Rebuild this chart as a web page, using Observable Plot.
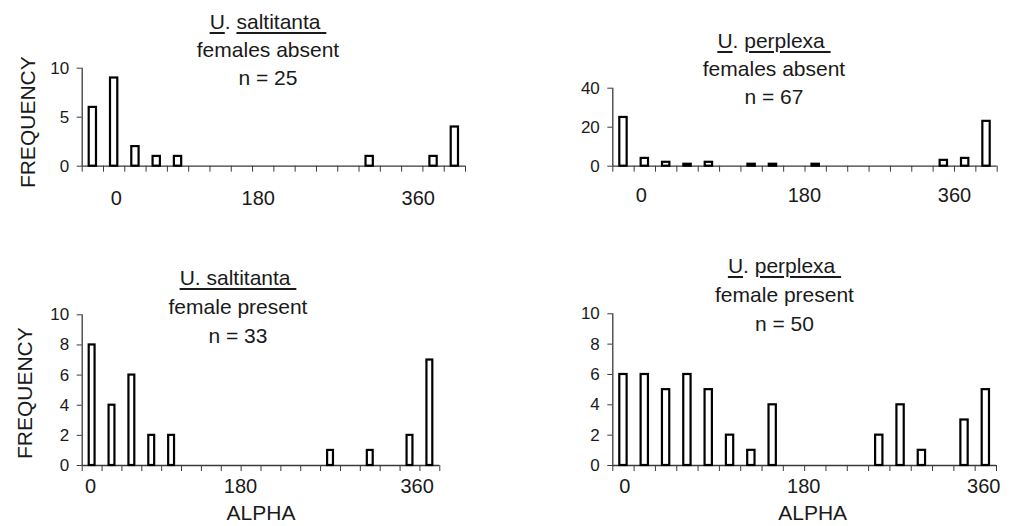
<!DOCTYPE html>
<html><head><meta charset="utf-8">
<script src="https://cdn.jsdelivr.net/npm/d3@7"></script>
<script src="https://cdn.jsdelivr.net/npm/@observablehq/plot@0.6"></script>
<style>
body{margin:0;background:#fff;}
#fig{position:relative;width:1013px;height:526px;overflow:hidden;font-family:"Liberation Sans",Arial,sans-serif;color:#1a1a1a;background:#fff;}
#fig svg{position:absolute;background:transparent;}
.title{position:absolute;width:320px;text-align:center;font-size:21px;white-space:pre;}
.title u{text-decoration-thickness:2px;text-underline-offset:3px;}
</style></head><body><div id="fig"></div>
<script>
// 18 angular classes (bin index 0..17)
const bins = d3.range(18);
const saltitantaAbsent  = [6, 9, 2, 1, 1, 0, 0, 0, 0, 0, 0, 0, 0, 1, 0, 0, 1, 4];
const perplexaAbsent    = [25, 4, 2, 1, 2, 0, 1, 1, 0, 1, 0, 0, 0, 0, 0, 3, 4, 23];
const saltitantaPresent = [8, 4, 6, 2, 2, 0, 0, 0, 0, 0, 0, 0, 1, 0, 1, 0, 2, 7];
const perplexaPresent   = [6, 6, 5, 6, 5, 2, 1, 4, 0, 0, 0, 0, 2, 4, 1, 0, 3, 5];
// x tick labels and where they sit along the class axis (in bin units)
const xTickLabels = ["0", "180", "360"];
const xLabelAtTL = [1.6, 8.27, 15.78];
const xLabelAtTR = [1.33, 8.97, 16.0];
const xLabelAtBL = [0.42, 7.97, 16.86];
const xLabelAtBR = [0.56, 8.96, 17.4];
// y ticks
const yTicksTL = [0, 5, 10];
const yTicksTR = [0, 20, 40];
const yTicksBottom = [0, 2, 4, 6, 8, 10];
// titles
const speciesA = "saltitanta";
const speciesB = "perplexa";
const condAbsent = "females absent";
const condPresent = "female present";
const nValues = [25, 67, 33, 50];
const yLabel = "FREQUENCY";
const xLabel = "ALPHA";

const FONT = '"Liberation Sans", Arial, sans-serif';
const fig = document.getElementById("fig");

function panel(o) {
  const data = bins.map(b => ({bin: b, freq: o.values[b]})).filter(d => d.freq > 0);
  const labels = xTickLabels.map((t, i) => ({t, at: o.labelAt[i]}));
  const marks = [
    Plot.ruleY([0], {stroke: "#3a3a3a", strokeWidth: 1.3}),
    Plot.ruleX([0], {stroke: "#3a3a3a", strokeWidth: 1.3}),
    Plot.axisX(d3.range(19), {tickSize: 6, tickFormat: () => "", stroke: "#3a3a3a", label: null}),
    Plot.axisY(o.yTicks, {tickSize: 5, tickPadding: 8, fontSize: 17, stroke: "#3a3a3a", label: null}),
    Plot.rectY(data, {x1: "bin", x2: d => d.bin + 1, y: "freq", fill: "white", stroke: "black", strokeWidth: 2.2, insetLeft: 7, insetRight: 7}),
    Plot.text(labels, {x: "at", text: "t", frameAnchor: "bottom", dy: o.xLabDy, fontSize: 20, lineAnchor: "middle"})
  ];
  if (o.ylab) marks.push(Plot.text([yLabel], {frameAnchor: "left", textAnchor: "middle", lineAnchor: "middle", rotate: -90, dx: o.ylabDx, dy: o.ylabDy, fontSize: 21}));
  if (o.xlab) marks.push(Plot.text([xLabel], {frameAnchor: "bottom", textAnchor: "middle", lineAnchor: "middle", dy: 48, dx: o.xlabDx, fontSize: 21}));
  const svg = Plot.plot({
    width: o.width, height: o.height,
    marginLeft: o.ml, marginRight: o.mr, marginTop: o.mt, marginBottom: o.mb,
    x: {domain: [0, 18], axis: null},
    y: {domain: [0, o.yMax], axis: null},
    style: {fontFamily: FONT, color: "#1a1a1a", background: "transparent", overflow: "visible"},
    marks
  });
  svg.style.left = o.left + "px";
  svg.style.top = o.top + "px";
  fig.appendChild(svg);
}

function title(html, cx, top, lh) {
  const d = document.createElement("div");
  d.className = "title";
  d.style.left = (cx - 160) + "px";
  d.style.top = top + "px";
  d.style.lineHeight = lh + "px";
  d.innerHTML = html;
  fig.appendChild(d);
}

panel({values: saltitantaAbsent, labelAt: xLabelAtTL, yTicks: yTicksTL, yMax: 10,
  left: 0, top: 0, width: 506, height: 230, ml: 81.7, mr: 41, mt: 67.7, mb: 64.3,
  xLabDy: 32, ylab: true, ylabDx: -54, ylabDy: 5});
panel({values: perplexaAbsent, labelAt: xLabelAtTR, yTicks: yTicksTR, yMax: 40,
  left: 506, top: 0, width: 507, height: 230, ml: 106.3, mr: 16.3, mt: 87.7, mb: 64.3,
  xLabDy: 29});
panel({values: saltitantaPresent, labelAt: xLabelAtBL, yTicks: yTicksBottom, yMax: 10,
  left: 0, top: 230, width: 506, height: 296, ml: 81.7, mr: 66.7, mt: 84.3, mb: 61,
  xLabDy: 21, ylab: true, ylabDx: -57, ylabDy: 3, xlab: true, xlabDx: 0});
panel({values: perplexaPresent, labelAt: xLabelAtBR, yTicks: yTicksBottom, yMax: 10,
  left: 506, top: 230, width: 507, height: 296, ml: 106.3, mr: 17, mt: 83.3, mb: 61,
  xLabDy: 21, xlab: true, xlabDx: 8});

title(`<u>U</u>. <u>${speciesA}&nbsp;</u>\n${condAbsent}\nn = ${nValues[0]}`, 268, 8, 28);
title(`<u>U</u>. <u>${speciesB}&nbsp;</u>\n${condAbsent}\nn = ${nValues[1]}`, 774, 27, 28);
title(`<u>U. ${speciesA}&nbsp;</u>\n${condPresent}\nn = ${nValues[2]}`, 238, 263, 29);
title(`<u>U</u>. <u>${speciesB}&nbsp;</u>\n${condPresent}\nn = ${nValues[3]}`, 784.5, 251, 29);
</script></body></html>
